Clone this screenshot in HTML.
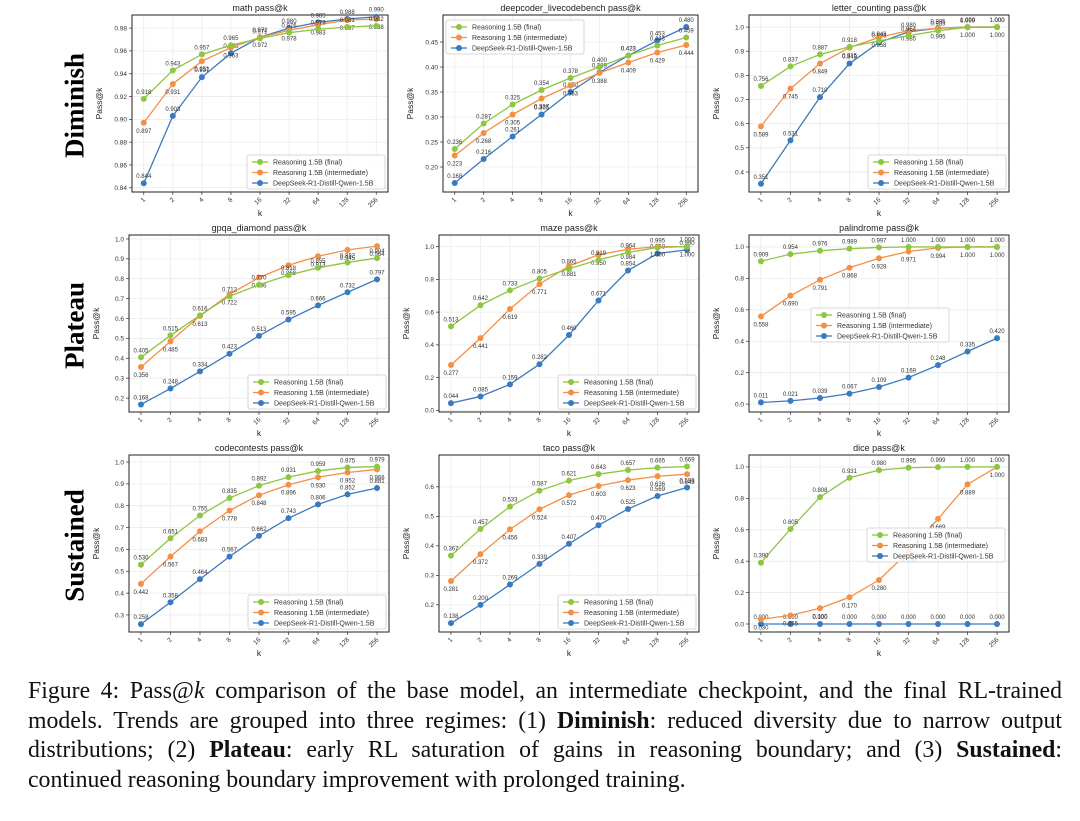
<!DOCTYPE html>
<html><head><meta charset="utf-8"><style>
body{margin:0;background:#fff;width:1080px;height:821px;overflow:hidden;position:relative;font-family:"Liberation Sans",sans-serif}
.row{position:absolute;font-family:"Liberation Serif",serif;font-weight:bold;font-size:27px;transform:rotate(-90deg);transform-origin:center;white-space:nowrap;text-align:center;width:160px}
#cap{position:absolute;left:28px;top:677px;width:1034px;font-family:"Liberation Serif",serif;font-size:23.8px;line-height:29.6px;color:#111}
#cap .ln{display:block;text-align:justify;text-align-last:justify;white-space:nowrap}
#cap .ln.last{text-align-last:left}
</style></head><body>
<svg id="fig" width="1080" height="821" style="position:absolute;left:0;top:0" xmlns="http://www.w3.org/2000/svg"></svg>
<div class="row" style="left:-5px;top:90px">Diminish</div>
<div class="row" style="left:-5px;top:310px">Plateau</div>
<div class="row" style="left:-5px;top:530px">Sustained</div>
<div id="cap"><span class="ln">Figure 4: Pass@<i>k</i> comparison of the base model, an intermediate checkpoint, and the final RL-trained</span><span class="ln">models. Trends are grouped into three regimes: (1) <b>Diminish</b>: reduced diversity due to narrow output</span><span class="ln">distributions; (2) <b>Plateau</b>: early RL saturation of gains in reasoning boundary; and (3) <b>Sustained</b>:</span><span class="ln last">continued reasoning boundary improvement with prolonged training.</span></div>
<script>
const categories=["1","2","4","8","16","32","64","128","256"];
const seriesNames=["Reasoning 1.5B (final)","Reasoning 1.5B (intermediate)","DeepSeek-R1-Distill-Qwen-1.5B"];
const titles=["math pass@k","deepcoder_livecodebench pass@k","letter_counting pass@k","gpqa_diamond pass@k","maze pass@k","palindrome pass@k","codecontests pass@k","taco pass@k","dice pass@k"];
const finalVals=[
[.918,.943,.957,.965,.971,.976,.979,.981,.982],
[.236,.287,.325,.354,.378,.400,.423,.443,.459],
[.756,.837,.887,.918,.943,.964,.985,.999,1.0],
[.405,.515,.616,.712,.770,.818,.855,.882,.904],
[.513,.642,.733,.805,.865,.919,.964,.995,1.0],
[.909,.954,.976,.989,.997,1.0,1.0,1.0,1.0],
[.530,.651,.755,.835,.892,.931,.959,.975,.979],
[.367,.457,.533,.587,.621,.643,.657,.665,.669],
[.390,.605,.808,.931,.980,.995,.999,1.0,1.0]];
const interVals=[
[.897,.931,.951,.963,.972,.978,.983,.987,.988],
[.223,.268,.305,.337,.363,.388,.409,.429,.444],
[.589,.745,.849,.915,.958,.985,.995,1.0,1.0],
[.356,.485,.613,.722,.806,.868,.913,.945,.964],
[.277,.441,.619,.771,.881,.950,.984,1.0,1.0],
[.558,.690,.791,.868,.928,.971,.994,1.0,1.0],
[.442,.567,.683,.778,.848,.896,.930,.952,.966],
[.281,.372,.456,.524,.572,.603,.623,.636,.643],
[.030,.055,.100,.170,.280,.460,.669,.889,1.0]];
const baseVals=[
[.844,.903,.937,.958,.972,.980,.985,.988,.990],
[.168,.216,.261,.305,.350,.389,.423,.453,.480],
[.351,.531,.710,.849,.936,.980,.995,1.0,1.0],
[.168,.248,.334,.423,.513,.595,.666,.732,.797],
[.044,.085,.159,.282,.460,.671,.854,.958,.980],
[.011,.021,.039,.067,.109,.169,.248,.335,.420],
[.258,.358,.464,.567,.662,.743,.806,.852,.881],
[.138,.200,.269,.339,.407,.470,.525,.569,.598],
[0,0,0,0,0,0,0,0,0]];
const yTicks=[
["0.84","0.86","0.88","0.90","0.92","0.94","0.96","0.98"],
["0.20","0.25","0.30","0.35","0.40","0.45"],
["0.4","0.5","0.6","0.7","0.8","0.9","1.0"],
["0.2","0.3","0.4","0.5","0.6","0.7","0.8","0.9","1.0"],
["0.0","0.2","0.4","0.6","0.8","1.0"],
["0.0","0.2","0.4","0.6","0.8","1.0"],
["0.3","0.4","0.5","0.6","0.7","0.8","0.9","1.0"],
["0.2","0.3","0.4","0.5","0.6"],
["0.0","0.2","0.4","0.6","0.8","1.0"]];
const yDomains=[[.8363,.9915],[.15,.504],[.317,1.05],[.13,1.02],[-.01,1.071],[-.05,1.076],[.222,1.032],[.108,.708],[-.051,1.076]];
// layout (not data)
const boxes=[[132,15,388,192],[443,15,698,192],[749,15,1009,192],[129,235,389,412],[439,235,699,412],[749,235,1009,412],[129,455,389,632],[439,455,699,632],[749,455,1009,632]];
const legendPos=["br","tl","br","br","br","c","br","br","cr"];
const colors=["#8dc641","#f58f45","#3a7ac0"];
const svg=document.getElementById('fig');
const NS="http://www.w3.org/2000/svg";
function mk(tag,attrs,parent){const e=document.createElementNS(NS,tag);for(const k in attrs)e.setAttribute(k,attrs[k]);(parent||svg).appendChild(e);return e;}
for(let p=0;p<9;p++){
  const [x0,y0,x1,y1]=boxes[p];const [lo,hi]=yDomains[p];
  const g=mk('g',{});
  
  
  const padX=(x1-x0)*0.046;
  const xs=i=>x0+padX+i*((x1-x0-2*padX)/(categories.length-1));
  const ys=v=>y1-(v-lo)/(hi-lo)*(y1-y0);
  categories.forEach((c,i)=>{
    mk('line',{x1:xs(i),x2:xs(i),y1:y0,y2:y1,stroke:'#ebebeb','stroke-width':0.8},g);
    mk('line',{x1:xs(i),x2:xs(i),y1:y1,y2:y1+3,stroke:'#333','stroke-width':0.7},g);
    const t=mk('text',{x:xs(i)+2,y:y1+8,'font-size':6.5,fill:'#333','text-anchor':'end',transform:`rotate(-45 ${xs(i)+2} ${y1+8})`},g);
    
    
    t.textContent=c;
  });
  yTicks[p].forEach(s=>{
    const v=parseFloat(s),yy=ys(v);
    mk('line',{x1:x0,x2:x1,y1:yy,y2:yy,stroke:'#ebebeb','stroke-width':0.8},g);
    mk('line',{x1:x0-3,x2:x0,y1:yy,y2:yy,stroke:'#333','stroke-width':0.7},g);
    const t=mk('text',{x:x0-5,y:yy+2.3,'font-size':6.5,fill:'#333','text-anchor':'end'},g);
    
    
    t.textContent=s;
  });
  mk('rect',{x:x0,y:y0,width:x1-x0,height:y1-y0,fill:'none',stroke:'#222','stroke-width':1},g);
  const tt=mk('text',{x:(x0+x1)/2,y:y0-4,'font-size':9,fill:'#222','text-anchor':'middle'},g);
  
  
  tt.textContent=titles[p];
  const yl=mk('text',{x:x0-30,y:(y0+y1)/2,'font-size':8.5,fill:'#222','text-anchor':'middle',transform:`rotate(-90 ${x0-30} ${(y0+y1)/2})`},g);
  
  
  yl.textContent='Pass@k';
  const xl=mk('text',{x:(x0+x1)/2,y:y1+24,'font-size':8.5,fill:'#222','text-anchor':'middle'},g);
  
  
  xl.textContent='k';
  const all=[finalVals[p],interVals[p],baseVals[p]];
  [2,1,0].forEach(s=>{
    const vals=all[s];
    const pts=vals.map((v,i)=>xs(i)+','+ys(v)).join(' ');
    const pl=mk('polyline',{points:pts,fill:'none',stroke:colors[s],'stroke-width':1.3},g);
    
    
    vals.forEach((v,i)=>{
      const c=mk('circle',{cx:xs(i),cy:ys(v),r:3,fill:colors[s]},g);
      
      
      const lt=mk('text',{x:xs(i),y:ys(v)+(s===1?10:-5),'font-size':6,fill:'#333','text-anchor':'middle'},g);
      
      
      lt.textContent=v.toFixed(3);
    });
  });
  const lw=138,lh=34;let lx,ly;
  const pos=legendPos[p];
  if(pos==='br'){lx=x1-lw-3;ly=y1-lh-3;}
  else if(pos==='tl'){lx=x0+3;ly=y0+5;}
  else if(pos==='c'){lx=x0+62;ly=y0+73;}
  else {lx=x1-lw-4;ly=y0+73;}
  const lg=mk('g',{},g);
  
  
  mk('rect',{x:lx,y:ly,width:lw,height:lh,fill:'#fff','fill-opacity':0.85,stroke:'#ccc','stroke-width':0.8,rx:2},lg);
  seriesNames.forEach((n,s)=>{
    const yy=ly+7+s*10.5;
    mk('line',{x1:lx+5,x2:lx+21,y1:yy,y2:yy,stroke:colors[s],'stroke-width':1.3},lg);
    mk('circle',{cx:lx+13,cy:yy,r:3,fill:colors[s]},lg);
    const t=mk('text',{x:lx+26,y:yy+2.5,'font-size':7,fill:'#333'},lg);
    
    
    t.textContent=n;
  });
}
</script>
</body></html>
